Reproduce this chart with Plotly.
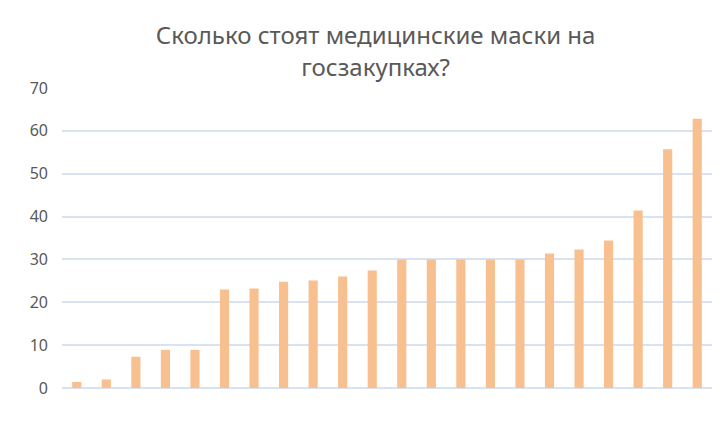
import plotly.graph_objects as go

# цена одной маски, руб. (отсортировано)
prices = [1.4, 2.0, 7.3, 8.9, 8.9, 23.0, 23.2, 24.8, 25.1, 26.0, 27.4,
          30.0, 30.0, 30.0, 30.0, 30.0, 31.4, 32.3, 34.4, 41.4, 55.7, 62.8]
positions = list(range(1, len(prices) + 1))
y_ticks = [0, 10, 20, 30, 40, 50, 60, 70]

fig = go.Figure(go.Bar(x=positions, y=prices, marker_color='#F9C08F',
                       marker_line_width=0))

# страница добавляет 8px отступа у body, поэтому поля сдвинуты
fig.update_layout(
    width=728, height=428,
    margin=dict(l=54, r=24, t=80, b=48),
    paper_bgcolor='white', plot_bgcolor='white',
    bargap=0.69,
    showlegend=False,
    title=dict(text='Сколько стоят медицинские маски на<br>госзакупках?',
               x=0.505, xanchor='center', y=0.915, yanchor='top',
               font=dict(family='Noto Sans', size=24, color='#595959')),
    font=dict(family='Noto Sans', color='#595959'),
)
fig.update_xaxes(showticklabels=False, showgrid=False, zeroline=False,
                 showline=False, range=[0.5, len(prices) + 0.5])
fig.update_yaxes(range=[0, 70], tickvals=y_ticks, showgrid=True,
                 gridcolor='#D9E2F1', gridwidth=2, zeroline=True,
                 zerolinecolor='#D9E2F1', zerolinewidth=2,
                 tickfont=dict(size=16, color='#595959'),
                 ticklabelstandoff=13, showline=False)

fig.write_html("out.html")
